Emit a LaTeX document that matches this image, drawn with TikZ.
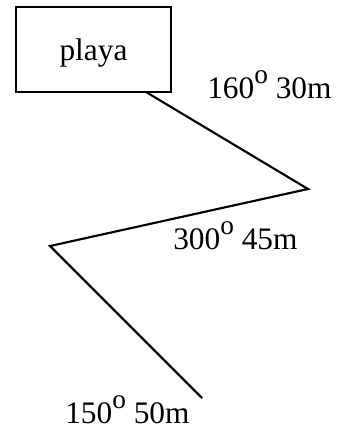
\documentclass[tikz,border=0pt]{standalone}
\usepackage{fontspec}
\setmainfont{Liberation Serif}
\newcommand\supo{\raisebox{0.45em}{\fontsize{20.5}{20}\selectfont o}}
\begin{document}
\begin{tikzpicture}[x=0.75pt,y=-0.75pt,
  lbl/.style={font=\fontsize{23.5}{26}\selectfont, inner sep=0pt},
  leg/.style={line width=1.6pt}]
\useasboundingbox (0,0) rectangle (339,430);
\node[draw, line width=1.4pt, minimum width=155*0.75pt, minimum height=85*0.75pt, text depth=0pt, lbl] (playa) at (93.5,49.5) {playa};
\coordinate (s) at (146,92);
\coordinate (p1) at (308,189);
\coordinate (p2) at (50,246);
\coordinate (p3) at (202,398);
\draw[leg] (s) -- (p1) -- (p2) -- (p3);
\node[lbl, anchor=base west] (l1) at (207,98) {160\supo{} 30m};
\node[lbl, anchor=base west] (l2) at (173,249) {300\supo{} 45m};
\node[lbl, anchor=base west] (l3) at (65,423) {150\supo{} 50m};
\end{tikzpicture}
\end{document}
